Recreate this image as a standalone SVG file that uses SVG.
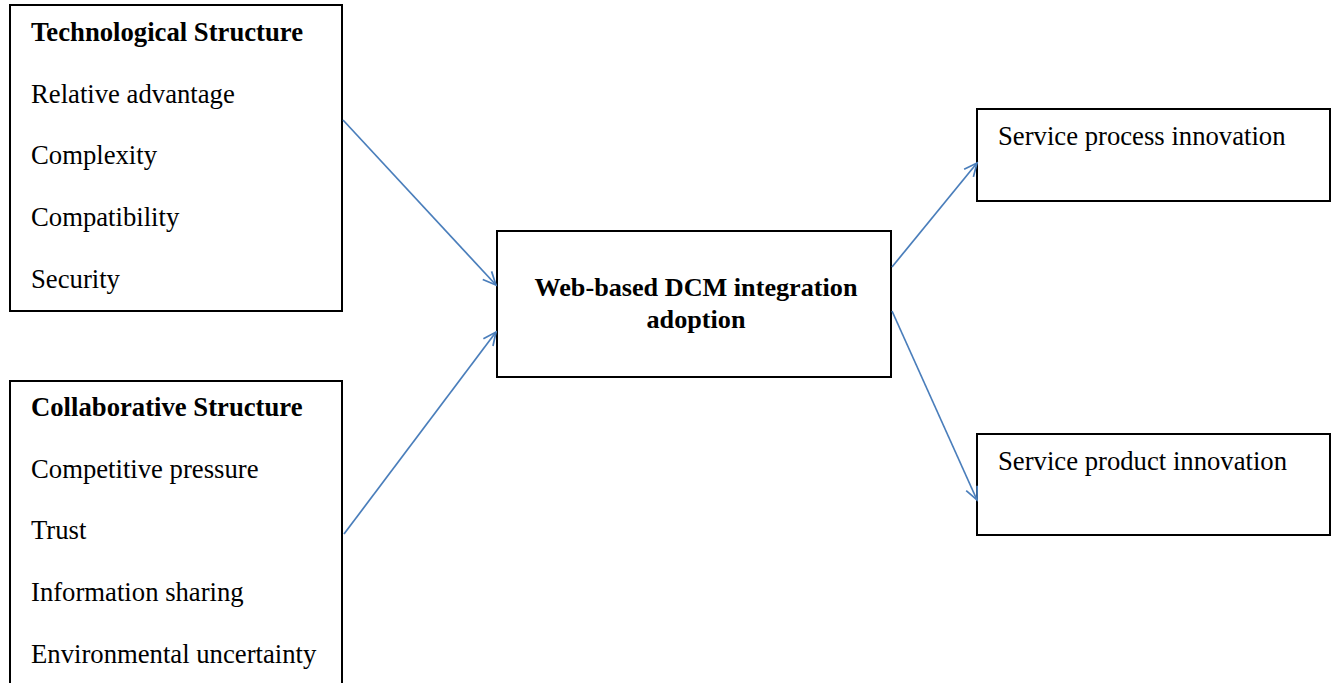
<svg xmlns="http://www.w3.org/2000/svg" width="1339" height="683" viewBox="0 0 1339 683">
<style>
.box{fill:#fff;stroke:#000;stroke-width:2}
.t{font-family:"Liberation Serif","Times New Roman",serif;font-size:26.7px;fill:#000}
.b{font-weight:bold}
.m{font-size:26.2px}
.c{stroke:#4a7ebb;stroke-width:1.7;fill:none}
</style>
<defs>
<marker id="ah" markerUnits="userSpaceOnUse" markerWidth="30" markerHeight="30" viewBox="-15 -15 30 30" refX="0" refY="0" orient="auto">
<path d="M -13 -6 L 0 0 L -13 6" fill="none" stroke="#4a7ebb" stroke-width="1.7"/>
</marker>
</defs>
<rect width="1339" height="683" fill="#fff"/>
<g id="tech">
<rect class="box" x="10" y="5" width="332" height="306"/>
<text class="t b" x="31" y="41">Technological Structure</text>
<text class="t" x="31" y="103">Relative advantage</text>
<text class="t" x="31" y="164">Complexity</text>
<text class="t" x="31" y="226">Compatibility</text>
<text class="t" x="31" y="288">Security</text>
</g>
<g id="collab">
<rect class="box" x="10" y="381" width="332" height="330"/>
<text class="t b" x="31" y="416">Collaborative Structure</text>
<text class="t" x="31" y="478">Competitive pressure</text>
<text class="t" x="31" y="539">Trust</text>
<text class="t" x="31" y="601">Information sharing</text>
<text class="t" x="31" y="663">Environmental uncertainty</text>
</g>
<g id="adoption">
<rect class="box" x="497" y="231" width="394" height="146"/>
<text class="t b m" x="696" y="296" text-anchor="middle">Web-based DCM integration</text>
<text class="t b m" x="696" y="328" text-anchor="middle">adoption</text>
</g>
<g id="process">
<rect class="box" x="977" y="109" width="353" height="92"/>
<text class="t" x="998" y="145">Service process innovation</text>
</g>
<g id="product">
<rect class="box" x="977" y="434" width="353" height="101"/>
<text class="t" x="998" y="470">Service product innovation</text>
</g>
<g id="connectors">
<line class="c" x1="343" y1="120" x2="496" y2="285" marker-end="url(#ah)"/>
<line class="c" x1="344" y1="534" x2="496" y2="332" marker-end="url(#ah)"/>
<line class="c" x1="892" y1="267" x2="977" y2="163" marker-end="url(#ah)"/>
<line class="c" x1="892" y1="311" x2="977" y2="500" marker-end="url(#ah)"/>
</g>
</svg>
